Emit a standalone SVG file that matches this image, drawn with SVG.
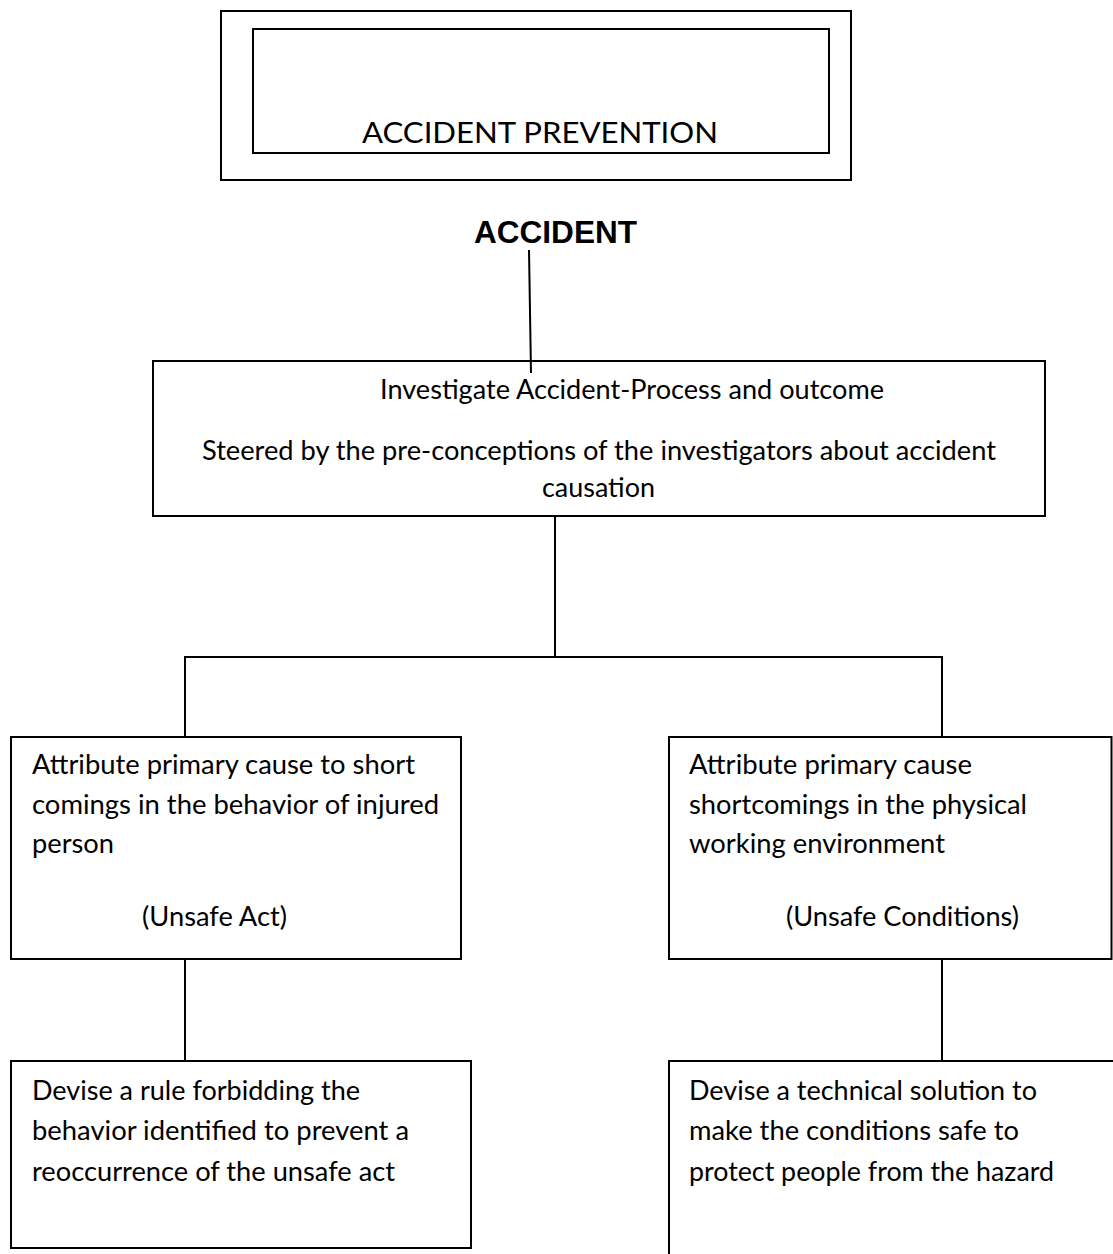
<svg xmlns="http://www.w3.org/2000/svg" width="1113" height="1254" viewBox="0 0 1113 1254">
<style>
.box{fill:#fff;stroke:#000;stroke-width:2}
.ln{stroke:#000;stroke-width:2;fill:none}
.t{font-family:Lato,"Liberation Sans",sans-serif;font-size:27px;fill:#000}
.tb{font-family:"Liberation Sans",Arial,sans-serif;font-size:31px;font-weight:bold;fill:#000}
</style>
<rect width="1113" height="1254" fill="#fff"/>
<g id="title">
<rect class="box" x="221" y="11" width="630" height="169"/>
<rect class="box" x="253" y="29" width="576" height="124"/>
<text class="t" x="362" y="143" style="font-size:29px" textLength="356" lengthAdjust="spacingAndGlyphs">ACCIDENT PREVENTION</text>
</g>
<g id="accident">
<text class="tb" x="474" y="243" textLength="163" lengthAdjust="spacingAndGlyphs">ACCIDENT</text>
</g>
<g id="connectors">
<line class="ln" x1="529" y1="250" x2="531" y2="373"/>
<line class="ln" x1="555" y1="516" x2="555" y2="657"/>
<line class="ln" x1="184" y1="657" x2="943" y2="657"/>
<line class="ln" x1="185" y1="657" x2="185" y2="737"/>
<line class="ln" x1="942" y1="657" x2="942" y2="737"/>
<line class="ln" x1="185" y1="959" x2="185" y2="1061"/>
<line class="ln" x1="942" y1="959" x2="942" y2="1061"/>
</g>
<g id="investigate">
<rect class="box" x="153" y="361" width="892" height="155" style="fill:none"/>
<text class="t" x="380" y="399" textLength="504" lengthAdjust="spacingAndGlyphs">Investigate Accident-Process and outcome</text>
<text class="t" x="202" y="460" textLength="794" lengthAdjust="spacingAndGlyphs">Steered by the pre-conceptions of the investigators about accident</text>
<text class="t" x="542" y="497" textLength="113" lengthAdjust="spacingAndGlyphs">causation</text>
</g>
<g id="unsafe-act">
<rect class="box" x="11" y="737" width="450" height="222"/>
<text class="t" x="32" y="774" textLength="383" lengthAdjust="spacingAndGlyphs">Attribute primary cause to short</text>
<text class="t" x="32" y="814" textLength="407" lengthAdjust="spacingAndGlyphs">comings in the behavior of injured</text>
<text class="t" x="32" y="853" textLength="82" lengthAdjust="spacingAndGlyphs">person</text>
<text class="t" x="142" y="926" textLength="145" lengthAdjust="spacingAndGlyphs">(Unsafe Act)</text>
</g>
<g id="unsafe-conditions">
<rect class="box" x="669" y="737" width="442.5" height="222"/>
<text class="t" x="689" y="774" textLength="283" lengthAdjust="spacingAndGlyphs">Attribute primary cause</text>
<text class="t" x="689" y="814" textLength="338" lengthAdjust="spacingAndGlyphs">shortcomings in the physical</text>
<text class="t" x="689" y="853" textLength="256" lengthAdjust="spacingAndGlyphs">working environment</text>
<text class="t" x="786" y="926" textLength="233" lengthAdjust="spacingAndGlyphs">(Unsafe Conditions)</text>
</g>
<g id="rule">
<rect class="box" x="11" y="1061" width="460" height="187"/>
<text class="t" x="32" y="1100" textLength="328" lengthAdjust="spacingAndGlyphs">Devise a rule forbidding the</text>
<text class="t" x="32" y="1140" textLength="377" lengthAdjust="spacingAndGlyphs">behavior identified to prevent a</text>
<text class="t" x="32" y="1181" textLength="363" lengthAdjust="spacingAndGlyphs">reoccurrence of the unsafe act</text>
</g>
<g id="technical">
<rect class="box" x="669" y="1061" width="460" height="220"/>
<text class="t" x="689" y="1100" textLength="348" lengthAdjust="spacingAndGlyphs">Devise a technical solution to</text>
<text class="t" x="689" y="1140" textLength="330" lengthAdjust="spacingAndGlyphs">make the conditions safe to</text>
<text class="t" x="689" y="1181" textLength="365" lengthAdjust="spacingAndGlyphs">protect people from the hazard</text>
</g>
</svg>
